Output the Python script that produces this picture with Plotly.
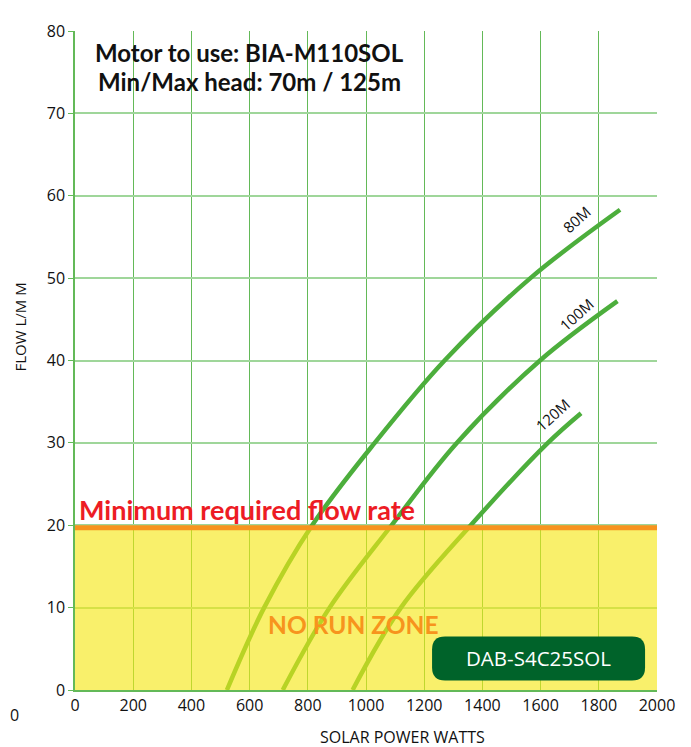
import plotly.graph_objects as go

# ---- data ----
watts_80 = [522, 650, 815, 1030, 1270, 1565, 1873]
flow_80 = [0, 10, 20, 30, 40, 50, 58.3]

watts_100 = [714, 875, 1088, 1312, 1598, 1864]
flow_100 = [0, 10, 20, 30, 40, 47.2]

watts_120 = [954, 1120, 1360, 1625, 1739]
flow_120 = [0, 10, 20, 30, 33.6]

curve_names = ["80M", "100M", "120M"]
label_pos = [(1725, 57.2), (1725, 45.6), (1640, 33.4)]

min_flow = 19.7
x_ticks = list(range(0, 2001, 200))
y_ticks = list(range(0, 81, 10))

CURVE = "#4cae3c"
FONT = "Open Sans"
BOLD = "Lato"

fig = go.Figure()
for xs, ys, nm in zip([watts_80, watts_100, watts_120],
                      [flow_80, flow_100, flow_120], curve_names):
    fig.add_trace(go.Scatter(x=xs, y=ys, mode="lines", name=nm,
                             line=dict(color=CURVE, width=4.5, shape="spline", smoothing=1),
                             showlegend=False, hoverinfo="skip"))

shapes = [
    dict(type="rect", xref="x", yref="y", x0=0, x1=2000, y0=0, y1=min_flow,
         fillcolor="rgb(246,231,24)", opacity=0.64, line=dict(width=0), layer="above"),
    dict(type="line", xref="x", yref="y", x0=0, x1=2000, y0=min_flow, y1=min_flow,
         line=dict(color="#f7931e", width=5), layer="above"),
]
w, h, r = 106.5, 22, 13
path = (f"M {-w+r},{-h} L {w-r},{-h} Q {w},{-h} {w},{-h+r} L {w},{h-r} Q {w},{h} {w-r},{h} "
        f"L {-w+r},{h} Q {-w},{h} {-w},{h-r} L {-w},{-h+r} Q {-w},{-h} {-w+r},{-h} Z")
shapes.append(dict(type="path", xref="x", yref="y", xsizemode="pixel", ysizemode="pixel",
                   xanchor=1593, yanchor=3.83, path=path, fillcolor="#00632a",
                   line=dict(width=0), layer="above"))

annotations = [
    dict(text="<b>Motor to use: BIA-M110SOL</b>", x=598, y=77.4, xref="x", yref="y",
         showarrow=False, font=dict(family=BOLD, size=24, color="#111")),
    dict(text="<b>Min/Max head: 70m / 125m</b>", x=598, y=73.9, xref="x", yref="y",
         showarrow=False, font=dict(family=BOLD, size=24, color="#111")),
    dict(text="<b>Minimum required flow rate</b>", x=8, y=21.9, xref="x", yref="y",
         xanchor="left", showarrow=False, font=dict(family=BOLD, size=27, color="#ed1c24")),
    dict(text="<b>NO RUN ZONE</b>", x=955, y=7.9, xref="x", yref="y",
         showarrow=False, font=dict(family=BOLD, size=24.5, color="#f7941d")),
    dict(text="DAB-S4C25SOL", x=1593, y=3.83, xref="x", yref="y",
         showarrow=False, font=dict(family=FONT, size=20.5, color="white")),
    dict(text="FLOW L/M M", x=-0.0945, y=0.55, xref="paper", yref="paper", textangle=-90,
         xanchor="center", yanchor="middle",
         showarrow=False, font=dict(family=FONT, size=15, color="#111")),
    dict(text="SOLAR POWER WATTS", x=0.563, y=-0.0719, xref="paper", yref="paper",
         xanchor="center", yanchor="middle",
         showarrow=False, font=dict(family=FONT, size=16, color="#111")),
    dict(text="0", x=-0.1048, y=-0.0374, xref="paper", yref="paper",
         xanchor="center", yanchor="middle",
         showarrow=False, font=dict(family=FONT, size=16, color="#111")),
]
for nm, (lx, ly) in zip(curve_names, label_pos):
    annotations.append(dict(text=nm, x=lx, y=ly, xref="x", yref="y", textangle=-42,
                            showarrow=False, font=dict(family=FONT, size=15, color="#111")))

# page body has an 8px margin: shift plot area by margins so it lands where the reference has it
fig.update_layout(
    width=691, height=747,
    margin=dict(l=67, r=42, t=14, b=65),
    paper_bgcolor="white", plot_bgcolor="white",
    shapes=shapes, annotations=annotations,
    xaxis=dict(range=[0, 2000], tickvals=x_ticks, showgrid=True, gridcolor="#63b958",
               gridwidth=1.3, zeroline=False, showline=True, linecolor="#63b958",
               linewidth=1.5, ticks="", tickfont=dict(family=FONT, size=16, color="#111")),
    yaxis=dict(range=[0, 80], tickvals=y_ticks, showgrid=True, gridcolor="#9fd69a",
               gridwidth=2, zeroline=False, showline=True, linecolor="#63b958",
               linewidth=1.5, ticks="outside", ticklen=5, tickcolor="#63b958",
               tickfont=dict(family=FONT, size=16, color="#111")),
)

fig.write_html("out.html")
